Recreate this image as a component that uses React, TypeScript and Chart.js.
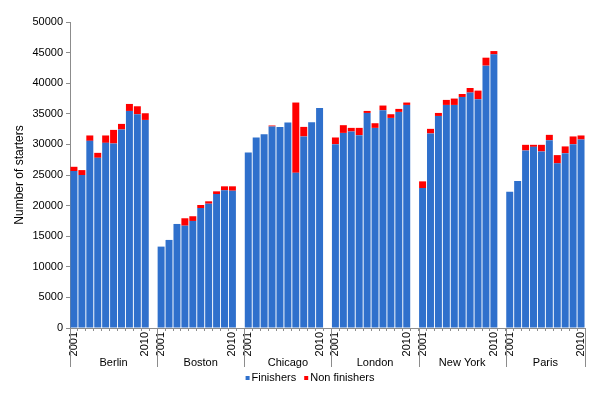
import React, { useEffect, useRef } from "react";
import { Chart, registerables } from "chart.js";

Chart.register(...registerables);

const cities = ["Berlin", "Boston", "Chicago", "London", "New York", "Paris"];
const years = ["2001", "2002", "2003", "2004", "2005", "2006", "2007", "2008", "2009", "2010"];
const yTicks = [0, 5000, 10000, 15000, 20000, 25000, 30000, 35000, 40000, 45000, 50000];

const finishersBerlin = [25640, 24990, 30580, 27810, 30250, 30150, 32440, 35470, 34930, 34000];
const nonFinishersBerlin = [700, 810, 880, 810, 1210, 2220, 910, 1140, 1300, 1090];
const finishersBoston = [13300, 14390, 17000, 16720, 17490, 19610, 20310, 21890, 22490, 22430];
const nonFinishersBoston = [0, 0, 0, 1210, 770, 490, 390, 440, 660, 720];
const finishersChicago = [28690, 31130, 31670, 32930, 32860, 33580, 25360, 31300, 33630, 35960];
const nonFinishersChicago = [0, 0, 0, 160, 0, 0, 11480, 1560, 0, 0];
const finishersLondon = [30040, 31880, 32110, 31510, 35140, 32700, 35580, 34330, 35310, 36450];
const nonFinishersLondon = [1090, 1260, 590, 1190, 330, 760, 770, 600, 490, 390];
const finishersNewYork = [22870, 31790, 34650, 36450, 36450, 37750, 38470, 37380, 42870, 44710];
const nonFinishersNewYork = [1090, 750, 490, 820, 1040, 490, 750, 1410, 1300, 540];
const finishersParis = [22270, 24010, 29010, 29600, 28850, 30690, 26900, 28570, 30040, 30800];
const nonFinishersParis = [0, 0, 920, 330, 1080, 870, 1350, 1100, 1260, 660];

const finishersByCity = [finishersBerlin, finishersBoston, finishersChicago, finishersLondon, finishersNewYork, finishersParis];
const nonFinishersByCity = [nonFinishersBerlin, nonFinishersBoston, nonFinishersChicago, nonFinishersLondon, nonFinishersNewYork, nonFinishersParis];

const BLUE = "#2f70cc";
const RED = "#ff0000";
const FONT = "Liberation Sans, Arial, sans-serif";

// Build flat category list: each city's 10 years followed by an empty slot (except the last city)
const labels: string[] = [];
const groupOf: number[] = [];
const finishersFlat: (number | null)[] = [];
const nonFinishersFlat: (number | null)[] = [];
cities.forEach((c, ci) => {
  years.forEach((y, yi) => {
    labels.push(y);
    groupOf.push(ci);
    finishersFlat.push(finishersByCity[ci][yi]);
    nonFinishersFlat.push(nonFinishersByCity[ci][yi]);
  });
  if (ci < cities.length - 1) {
    labels.push("");
    groupOf.push(ci);
    finishersFlat.push(null);
    nonFinishersFlat.push(null);
  }
});

const groupPlugin = {
  id: "groupLabels",
  afterDraw(chart: any) {
    const ctx = chart.ctx;
    const xs = chart.scales.x;
    const area = chart.chartArea;
    const n = labels.length;
    const boundary = (i: number) => {
      if (i <= 0) return xs.left;
      if (i >= n) return xs.right;
      return (xs.getPixelForValue(i - 1) + xs.getPixelForValue(i)) / 2;
    };
    const spans: { start: number; end: number; city: string }[] = [];
    cities.forEach((c, ci) => {
      const idx = groupOf.map((g, i) => (g === ci ? i : -1)).filter((i) => i >= 0);
      spans.push({ start: idx[0], end: idx[idx.length - 1] + 1, city: c });
    });
    ctx.save();
    ctx.strokeStyle = "#8c8c8c";
    ctx.lineWidth = 1;
    const yTop = area.bottom;
    const yBot = area.bottom + 39;
    const drawn = new Set<number>();
    spans.forEach((s) => {
      [s.start, s.end].forEach((b) => {
        if (drawn.has(b)) return;
        drawn.add(b);
        const x = Math.round(boundary(b)) + 0.5;
        ctx.beginPath();
        ctx.moveTo(x, yTop);
        ctx.lineTo(x, yBot);
        ctx.stroke();
      });
    });
    ctx.fillStyle = "#000";
    ctx.font = `11px ${FONT}`;
    ctx.textAlign = "center";
    ctx.textBaseline = "middle";
    spans.forEach((s) => {
      const cx = (boundary(s.start) + boundary(s.end)) / 2;
      ctx.fillText(s.city, cx, area.bottom + 35);
    });

    // legend
    const items = [
      { text: "Finishers", color: BLUE },
      { text: "Non finishers", color: RED },
    ];
    const box = 4;
    const gapAfterBox = 2;
    const itemGap = 8;
    ctx.textAlign = "left";
    const widths = items.map((it) => box + gapAfterBox + ctx.measureText(it.text).width);
    const total = widths.reduce((a, b) => a + b, 0) + itemGap * (items.length - 1);
    let x = 310 - total / 2;
    const ly = area.bottom + 50;
    items.forEach((it, i) => {
      ctx.fillStyle = it.color;
      ctx.fillRect(x, ly - box / 2, box, box);
      ctx.fillStyle = "#000";
      ctx.fillText(it.text, x + box + gapAfterBox, ly);
      x += widths[i] + itemGap;
    });
    ctx.restore();
  },
};

export default function App() {
  const ref = useRef<HTMLCanvasElement | null>(null);
  useEffect(() => {
    if (!ref.current) return;
    const chart = new Chart(ref.current, {
      type: "bar",
      data: {
        labels,
        datasets: [
          {
            label: "Finishers",
            data: finishersFlat as any,
            backgroundColor: BLUE,
            borderWidth: 0,
            categoryPercentage: 0.88,
            barPercentage: 1,
          },
          {
            label: "Non finishers",
            data: nonFinishersFlat as any,
            backgroundColor: RED,
            borderWidth: 0,
            categoryPercentage: 0.88,
            barPercentage: 1,
          },
        ],
      },
      options: {
        animation: false,
        responsive: false,
        devicePixelRatio: 1,
        layout: { padding: { top: 22, right: 17, left: 12, bottom: 0 } },
        plugins: {
          legend: { display: false },
          tooltip: { enabled: false },
        },
        scales: {
          x: {
            stacked: true,
            grid: {
              display: true,
              drawOnChartArea: false,
              drawTicks: true,
              tickLength: 3,
              color: "#8c8c8c",
              offset: true,
            },
            border: { color: "#8c8c8c" },
            ticks: {
              autoSkip: false,
              maxRotation: 90,
              minRotation: 90,
              padding: 1,
              color: "#000",
              font: { family: FONT, size: 11 },
              callback: (_v: any, i: number) => (labels[i] === "2001" || labels[i] === "2010" ? labels[i] : ""),
            },
            afterFit: (s: any) => {
              s.height = 65;
            },
          },
          y: {
            stacked: true,
            min: yTicks[0],
            max: yTicks[yTicks.length - 1],
            afterBuildTicks: (s: any) => {
              s.ticks = yTicks.map((v) => ({ value: v }));
            },
            grid: {
              display: true,
              drawOnChartArea: false,
              drawTicks: true,
              tickLength: 4,
              color: "#8c8c8c",
            },
            border: { color: "#8c8c8c" },
            ticks: {
              padding: 3,
              color: "#000",
              font: { family: FONT, size: 11 },
              callback: (v: any) => String(v),
            },
            title: {
              display: true,
              text: "Number of starters",
              color: "#000",
              font: { family: FONT, size: 12 },
              padding: 0,
            },
            afterFit: (s: any) => {
              s.width = 58;
            },
          },
        },
      },
      plugins: [groupPlugin],
    });
    return () => chart.destroy();
  }, []);
  return (
    <div style={{ position: "absolute", left: 0, top: 0, width: 602, height: 393, background: "#fff" }}>
      <canvas ref={ref} width={602} height={393} style={{ display: "block" }} />
    </div>
  );
}
